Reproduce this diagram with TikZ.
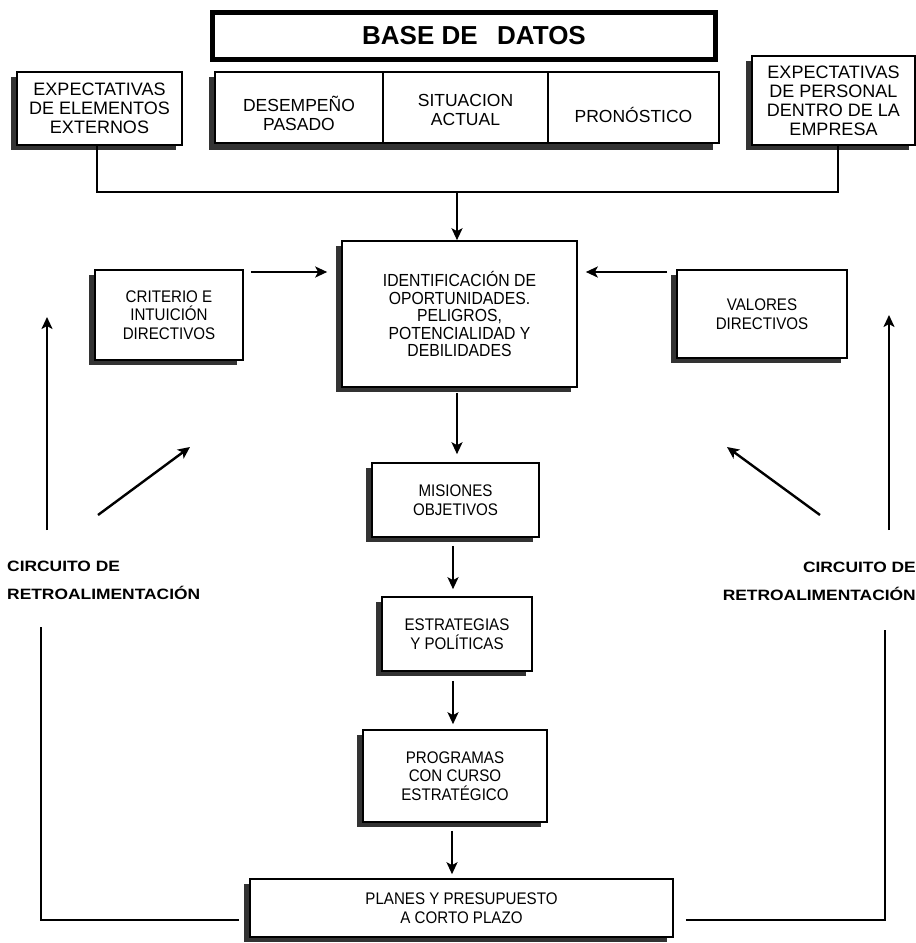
\documentclass[tikz,border=0pt]{standalone}
\usepackage{fontspec}
\setmainfont{Liberation Sans}
\newfontfamily\narrowfont[FakeStretch=0.9]{Liberation Sans}
\newfontfamily\circfont[FakeStretch=1.16]{Liberation Sans}
\usetikzlibrary{arrows.meta,shadows,calc}

\begin{document}
\begin{tikzpicture}[x=1pt,y=-1pt,
  box/.style={draw,line width=1.6pt,fill=white,inner sep=0pt,align=center},
  cell/.style={draw,line width=1.6pt,fill=white,inner sep=0pt},
  shadowed/.style={drop shadow={shadow xshift=-6pt,shadow yshift=-5pt,fill=black!80,opacity=1}},
  txt/.style={font=\narrowfont\fontsize{16.8}{18.5}\selectfont},
  idtxt/.style={font=\narrowfont\fontsize{17.5}{17.5}\selectfont},
  rowtxt/.style={font=\fontsize{17.5}{18.5}\selectfont,align=center,inner sep=0pt},
  bigtxt/.style={font=\fontsize{18}{19}\selectfont},
  arr/.style={line width=2.4pt,-{Stealth[length=12pt,width=11pt,inset=3pt]}},
  link/.style={line width=2pt},
  looplabel/.style={font=\circfont\bfseries\fontsize{15}{18}\selectfont,inner sep=0pt}
]
\useasboundingbox (0,0) rectangle (916,943);

% database header
\node[draw,line width=5pt,minimum width=503pt,minimum height=47pt,inner sep=0pt,
      font=\bfseries\fontsize{26}{28}\selectfont] (base) at (464,36)
      {\hspace*{20pt}BASE DE\hspace{0.75em}DATOS};

% database contents row (one shadow under the three cells)
\fill[black!80] (209,77) rectangle (713,150);
\node[cell,minimum width=168pt,minimum height=71pt] (desemp) at (299,107.5) {};
\node[cell,minimum width=165pt,minimum height=71pt] (situ) at (465.5,107.5) {};
\node[cell,minimum width=171pt,minimum height=71pt] (pron) at (633.5,107.5) {};
\node[rowtxt] (desempT) at ([yshift=-6pt]desemp.center) {DESEMPEÑO\\PASADO};
\node[rowtxt] (situT) at ([yshift=-2.5pt]situ.center) {SITUACION\\ACTUAL};
\node[rowtxt] (pronT) at ([yshift=-7pt]pron.center) {PRONÓSTICO};

% expectations
\node[box,shadowed,bigtxt,minimum width=165pt,minimum height=73pt] (extext) at (99.5,108.5)
      {EXPECTATIVAS\\DE ELEMENTOS\\EXTERNOS};
\node[box,shadowed,bigtxt,minimum width=163pt,minimum height=89pt] (extper) at (833.5,100.5)
      {EXPECTATIVAS\\DE PERSONAL\\DENTRO DE LA\\EMPRESA};

% central chain
\node[box,shadowed,idtxt,minimum width=235pt,minimum height=146pt] (ident) at (459.5,314)
      {IDENTIFICACIÓN DE\\OPORTUNIDADES.\\PELIGROS,\\POTENCIALIDAD Y\\DEBILIDADES};
\node[box,shadowed,txt,minimum width=148pt,minimum height=90pt] (criterio) at (169,315)
      {CRITERIO E\\INTUICIÓN\\DIRECTIVOS};
\node[box,shadowed,txt,minimum width=170pt,minimum height=88pt] (valores) at (762,314)
      {VALORES\\DIRECTIVOS};
\node[box,shadowed,txt,minimum width=167pt,minimum height=74pt] (misiones) at (455.5,500)
      {MISIONES\\OBJETIVOS};
\node[box,shadowed,txt,minimum width=150pt,minimum height=74pt] (estrat) at (457,634)
      {ESTRATEGIAS\\Y POLÍTICAS};
\node[box,shadowed,txt,minimum width=184pt,minimum height=92pt] (program) at (455,776)
      {PROGRAMAS\\CON CURSO\\ESTRATÉGICO};
\node[box,shadowed,txt,minimum width=423pt,minimum height=58pt] (planes) at (461.5,908)
      {PLANES Y PRESUPUESTO\\A CORTO PLAZO};

% collector from the expectation boxes
\coordinate (join) at (457,192);
\draw[link] (extext.south -| 97,0) |- (join) -| (extper.south -| 838,0);
\draw[arr] (join) -- (ident.north -| join);

% side inputs
\draw[arr,shorten <=7pt,shorten >=14pt] (criterio.east |- 0,272) -- (ident.west |- 0,272);
\draw[arr,shorten <=9pt,shorten >=8pt] (valores.west |- 0,272) -- (ident.east |- 0,272);

% downward flow
\draw[arr,shorten <=5pt,shorten >=8pt] (ident.south -| 457,0) -- (misiones.north -| 457,0);
\draw[arr,shorten <=8pt,shorten >=7pt] (misiones.south -| 453,0) -- (estrat.north -| 453,0);
\draw[arr,shorten <=9pt,shorten >=5pt] (estrat.south -| 453,0) -- (program.north -| 453,0);
\draw[arr,shorten <=8pt,shorten >=4pt] (program.south -| 452,0) -- (planes.north -| 452,0);

% feedback loops
\coordinate (fbL) at (41,627);
\coordinate (fbR) at (885,630);
\draw[link,shorten <=10pt] (planes.west |- 0,920) -| (fbL);
\draw[link,shorten <=12pt] (planes.east |- 0,920) -| (fbR);

\coordinate (upLa) at (47,530);
\coordinate (upLb) at (47,317);
\coordinate (upRa) at (889,530);
\coordinate (upRb) at (889,315);
\draw[arr] (upLa) -- (upLb);
\draw[arr] (upRa) -- (upRb);

\coordinate (dgLa) at (98,515);
\coordinate (dgLb) at (190,447);
\coordinate (dgRa) at (820,515);
\coordinate (dgRb) at (727,447);
\draw[arr] (dgLa) -- (dgLb);
\draw[arr] (dgRa) -- (dgRb);

% loop labels
\node[looplabel,anchor=base west] (circL1) at (7,571) {CIRCUITO DE};
\node[looplabel,anchor=base west] (circL2) at (7,599) {RETROALIMENTACIÓN};
\node[looplabel,anchor=base east] (circR1) at (916,572) {CIRCUITO DE};
\node[looplabel,anchor=base east] (circR2) at (916,600) {RETROALIMENTACIÓN};
\end{tikzpicture}
\end{document}
